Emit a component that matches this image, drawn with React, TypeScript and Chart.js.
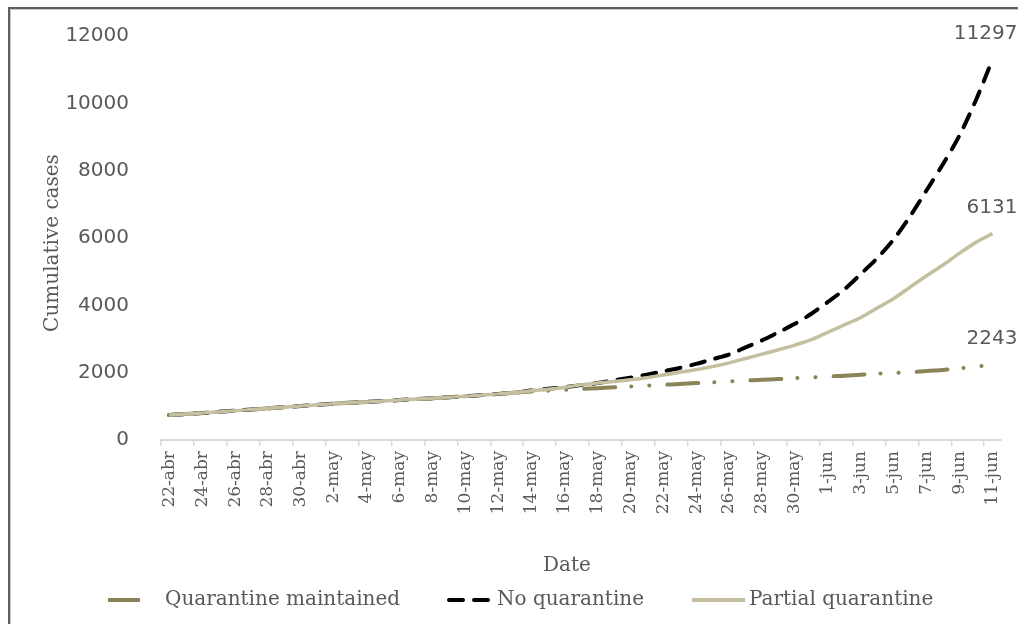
import React, { useEffect, useRef } from "react";
import { Chart, registerables } from "chart.js";

Chart.register(...registerables);

// Daily dates, 22 April to 11 June
const dateLabels = [
  "22-abr", "23-abr", "24-abr", "25-abr", "26-abr", "27-abr", "28-abr", "29-abr", "30-abr",
  "1-may", "2-may", "3-may", "4-may", "5-may", "6-may", "7-may", "8-may", "9-may", "10-may",
  "11-may", "12-may", "13-may", "14-may", "15-may", "16-may", "17-may", "18-may", "19-may",
  "20-may", "21-may", "22-may", "23-may", "24-may", "25-may", "26-may", "27-may", "28-may",
  "29-may", "30-may", "31-may",
  "1-jun", "2-jun", "3-jun", "4-jun", "5-jun", "6-jun", "7-jun", "8-jun", "9-jun", "10-jun", "11-jun",
];

const quarantineMaintained = [
  740, 770, 800, 835, 870, 905, 940, 975, 1010, 1045, 1080, 1105, 1130, 1160, 1185, 1215, 1240,
  1270, 1300, 1335, 1370, 1410, 1440, 1465, 1490, 1515, 1540, 1565, 1590, 1615, 1640, 1660, 1690,
  1710, 1740, 1765, 1790, 1810, 1840, 1860, 1890, 1910, 1940, 1970, 1990, 2010, 2050, 2080, 2130,
  2180, 2243,
];

const noQuarantine = [
  740, 770, 800, 835, 870, 905, 940, 975, 1010, 1045, 1080, 1105, 1130, 1160, 1185, 1215, 1240,
  1270, 1300, 1335, 1370, 1410, 1470, 1520, 1570, 1630, 1690, 1770, 1850, 1940, 2040, 2140, 2260,
  2400, 2540, 2750, 2960, 3200, 3450, 3750, 4100, 4470, 4930, 5400, 5960, 6650, 7420, 8200, 9050,
  10100, 11297,
];

const partialQuarantine = [
  740, 770, 800, 835, 870, 905, 940, 975, 1010, 1045, 1080, 1105, 1130, 1160, 1185, 1215, 1240,
  1270, 1300, 1335, 1370, 1410, 1460, 1510, 1560, 1640, 1690, 1735, 1790, 1850, 1930, 2010, 2090,
  2180, 2290, 2420, 2550, 2680, 2820, 2980, 3200, 3420, 3640, 3920, 4200, 4540, 4880, 5200, 5550,
  5870, 6131,
];

const seriesNames = ["Quarantine maintained", "No quarantine", "Partial quarantine"];

const TEXT = "#595959";
const SERIF = "'DejaVu Serif', serif";
const SANS = "'DejaVu Sans', sans-serif";
const OLIVE = "#8a8458";
const TAN = "#c4bf9e";

const MAINTAINED_DASH = [31, 16, 0.1, 18, 0.1, 18];
const NOQ_DASH = [14, 11];

const annotations = {
  id: "annotations",
  afterDraw(chart: any) {
    const { ctx } = chart;
    ctx.save();
    ctx.fillStyle = TEXT;

    // Axis titles
    ctx.font = `20px ${SERIF}`;
    ctx.textAlign = "center";
    ctx.textBaseline = "middle";
    ctx.save();
    ctx.translate(53, 243);
    ctx.rotate(-Math.PI / 2);
    ctx.fillText("Cumulative cases", 0, 0);
    ctx.restore();
    ctx.fillText("Date", 567, 566);

    // End-of-series value labels
    ctx.font = `20px ${SANS}`;
    ctx.textAlign = "right";
    chart.data.datasets.forEach((ds: any, di: number) => {
      const meta = chart.getDatasetMeta(di);
      const last = ds.data.length - 1;
      const pt = meta.data[last];
      if (!pt) return;
      ctx.fillText(String(ds.data[last]), pt.x + 25, pt.y - 26);
    });

    // Legend
    const ly = 600;
    ctx.lineWidth = 4;
    ctx.lineCap = "butt";

    ctx.strokeStyle = OLIVE;
    ctx.setLineDash([]);
    ctx.beginPath();
    ctx.moveTo(108, ly);
    ctx.lineTo(140, ly);
    ctx.stroke();

    ctx.strokeStyle = "#000";
    ctx.lineCap = "round";
    ctx.setLineDash(NOQ_DASH);
    ctx.beginPath();
    ctx.moveTo(449, ly);
    ctx.lineTo(491, ly);
    ctx.stroke();

    ctx.lineCap = "butt";
    ctx.strokeStyle = TAN;
    ctx.setLineDash([]);
    ctx.beginPath();
    ctx.moveTo(692, ly);
    ctx.lineTo(745, ly);
    ctx.stroke();

    ctx.font = `20px ${SERIF}`;
    ctx.textAlign = "left";
    ctx.textBaseline = "middle";
    ctx.fillText(seriesNames[0], 165, ly);
    ctx.fillText(seriesNames[1], 497, ly);
    ctx.fillText(seriesNames[2], 749, ly);

    ctx.restore();
  },
};

export default function App() {
  const canvasRef = useRef<HTMLCanvasElement | null>(null);

  useEffect(() => {
    if (!canvasRef.current) return;
    const chart = new Chart(canvasRef.current, {
      type: "line",
      data: {
        labels: dateLabels,
        datasets: [
          {
            label: seriesNames[0],
            data: quarantineMaintained,
            borderColor: OLIVE,
            borderWidth: 4,
            borderDash: MAINTAINED_DASH,
            borderCapStyle: "round",
            pointRadius: 0,
            tension: 0.3,
            fill: false,
            order: 1,
          },
          {
            label: seriesNames[1],
            data: noQuarantine,
            borderColor: "#000000",
            borderWidth: 4,
            borderDash: NOQ_DASH,
            borderCapStyle: "round",
            pointRadius: 0,
            tension: 0.3,
            fill: false,
            order: 2,
          },
          {
            label: seriesNames[2],
            data: partialQuarantine,
            borderColor: TAN,
            borderWidth: 3.5,
            pointRadius: 0,
            tension: 0.3,
            fill: false,
            order: 0,
          },
        ],
      },
      options: {
        animation: false,
        responsive: true,
        maintainAspectRatio: false,
        layout: { padding: { top: 33, right: 14, left: 0, bottom: 0 } },
        plugins: {
          legend: { display: false },
          tooltip: { enabled: false },
        },
        scales: {
          x: {
            type: "category",
            offset: true,
            grid: {
              offset: true,
              drawOnChartArea: false,
              drawTicks: true,
              tickLength: 6,
              lineWidth: 1.5,
              color: (c: any) => (c.index % 2 === 0 ? "#d9d9d9" : "rgba(0,0,0,0)"),
            },
            border: { display: true, color: "#d9d9d9", width: 2 },
            ticks: {
              autoSkip: false,
              minRotation: 90,
              maxRotation: 90,
              padding: 5,
              color: TEXT,
              font: { family: SERIF, size: 17 },
              callback: (_v: any, i: number) => (i % 2 === 0 ? dateLabels[i] : ""),
            },
            afterFit: (s: any) => {
              s.height = 184;
            },
          },
          y: {
            min: 0,
            max: 12000,
            grid: { display: false },
            border: { display: false },
            ticks: {
              stepSize: 2000,
              padding: 24,
              color: TEXT,
              font: { family: SANS, size: 20 },
              callback: (v: any) => String(v),
            },
            afterFit: (s: any) => {
              s.width = 161;
            },
          },
        },
      },
      plugins: [annotations],
    });
    return () => chart.destroy();
  }, []);

  return (
    <div
      style={{
        position: "fixed",
        left: 0,
        top: 0,
        width: 1018,
        height: 624,
        background: "#fff",
        overflow: "hidden",
      }}
    >
      <div
        style={{
          position: "absolute",
          left: 8,
          top: 7,
          width: 1100,
          height: 700,
          borderLeft: "2px solid #5f5f5f",
          borderTop: "2px solid #5f5f5f",
          boxShadow: "inset 1px 1px 0 #c8c8c8",
        }}
      />
      <canvas ref={canvasRef} style={{ position: "absolute", left: 0, top: 0 }} />
    </div>
  );
}
